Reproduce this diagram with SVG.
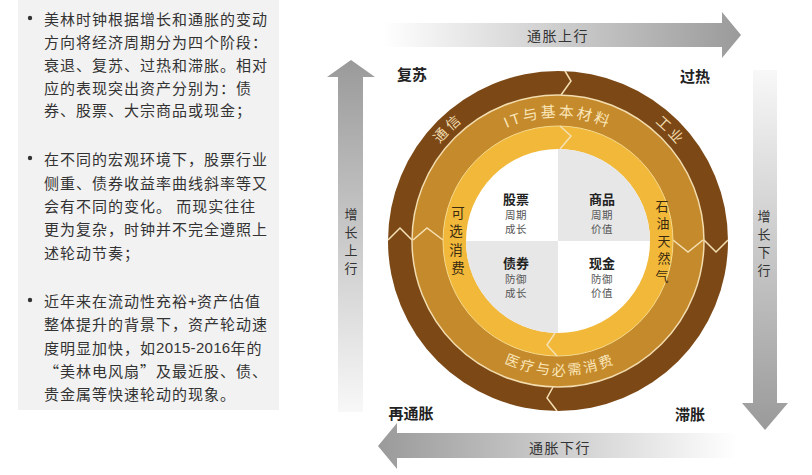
<svg xmlns="http://www.w3.org/2000/svg" width="812" height="475" viewBox="0 0 812 475">
<style>
.p{font-family:"Noto Sans CJK SC","Liberation Sans",sans-serif;font-size:15px;letter-spacing:1px;fill:#333;dominant-baseline:central}
.lat{font-family:"Liberation Sans","Noto Sans CJK SC",sans-serif;letter-spacing:0.3px}
.corner{font-family:"Noto Sans CJK SC",sans-serif;font-size:15px;font-weight:bold;fill:#222;text-anchor:middle;dominant-baseline:central}
.al{font-family:"Noto Sans CJK SC",sans-serif;font-size:14px;letter-spacing:1.5px;fill:#333;text-anchor:middle;dominant-baseline:central}
.alv{font-family:"Noto Sans CJK SC",sans-serif;font-size:13px;fill:#333;text-anchor:middle;dominant-baseline:central}
.ttl{font-family:"Noto Sans CJK SC",sans-serif;font-size:13px;font-weight:bold;fill:#222;text-anchor:middle;dominant-baseline:central}
.sub{font-family:"Noto Sans CJK SC",sans-serif;font-size:10.5px;letter-spacing:0.5px;fill:#555;text-anchor:middle;dominant-baseline:central}
.outerT{font-family:"Noto Sans CJK SC",sans-serif;font-size:14px;letter-spacing:3px;fill:#f3dcae;text-anchor:middle}
.midT{font-family:"Liberation Sans","Noto Sans CJK SC",sans-serif;font-size:15px;letter-spacing:2.5px;fill:#fbe6b8;text-anchor:middle}
.yelT{font-family:"Noto Sans CJK SC",sans-serif;font-size:13.5px;fill:#3a2a10;text-anchor:middle;dominant-baseline:central}
.yelR{font-family:"Noto Sans CJK SC",sans-serif;font-size:13px;fill:#3a2a10;text-anchor:middle;dominant-baseline:central}
.chev{fill:none;stroke:#f5e0b4;stroke-width:1.5;stroke-linejoin:miter}
</style>
<defs>
<linearGradient id="gTop" x1="0" y1="0" x2="1" y2="0"><stop offset="0" stop-color="#ffffff"/><stop offset="1" stop-color="#9a9a9a"/></linearGradient>
<linearGradient id="gBot" x1="0" y1="0" x2="1" y2="0"><stop offset="0" stop-color="#9a9a9a"/><stop offset="1" stop-color="#ffffff"/></linearGradient>
<linearGradient id="gLeft" x1="0" y1="0" x2="0" y2="1"><stop offset="0" stop-color="#9a9a9a"/><stop offset="1" stop-color="#f8f8f8"/></linearGradient>
<linearGradient id="gRight" x1="0" y1="0" x2="0" y2="1"><stop offset="0" stop-color="#f8f8f8"/><stop offset="1" stop-color="#9a9a9a"/></linearGradient>
<path id="arcOuter" d="M405,241 A153 153 0 0 1 711,241"/>
<path id="arcMidTop" d="M434,241 A124 124 0 0 1 682,241"/>
<path id="arcMidBot" d="M426,241 A134 134 0 0 0 694,241"/>
</defs>

<g id="panel">
<rect x="18" y="0" width="261" height="410" fill="#f2f2f2"/>
<circle cx="30" cy="18" r="2.2" fill="#333"/>
<text class="p" x="44" y="18">美林时钟根据增长和通胀的变动</text>
<text class="p" x="44" y="41">方向将经济周期分为四个阶段：</text>
<text class="p" x="44" y="64">衰退、复苏、过热和滞胀。相对</text>
<text class="p" x="44" y="87">应的表现突出资产分别为：债</text>
<text class="p" x="44" y="109">券、股票、大宗商品或现金；</text>
<circle cx="30" cy="158" r="2.2" fill="#333"/>
<text class="p" x="44" y="158">在不同的宏观环境下，股票行业</text>
<text class="p" x="44" y="182">侧重、债券收益率曲线斜率等又</text>
<text class="p" x="44" y="205">会有不同的变化。 而现实往往</text>
<text class="p" x="44" y="228">更为复杂，时钟并不完全遵照上</text>
<text class="p" x="44" y="252">述轮动节奏；</text>
<circle cx="30" cy="300" r="2.2" fill="#333"/>
<text class="p" x="44" y="300">近年来在流动性充裕<tspan class="lat">+</tspan>资产估值</text>
<text class="p" x="44" y="323">整体提升的背景下，资产轮动速</text>
<text class="p" x="44" y="347">度明显加快，如<tspan class="lat">2015-2016</tspan>年的</text>
<text class="p" x="44" y="370">“美林电风扇”及最近股、债、</text>
<text class="p" x="44" y="393">贵金属等快速轮动的现象。</text>
</g>

<g id="connectors">
<g id="arrow-inflation-up">
<path d="M383,23 H722 V12 L741,35 L722,58 V47 H383 Z" fill="url(#gTop)"/>
<text class="al" x="558" y="35">通胀上行</text>
</g>
<g id="arrow-inflation-down">
<path d="M737,433 H397 V423 L378,446 L397,469 V458 H737 Z" fill="url(#gBot)"/>
<text class="al" x="560" y="447">通胀下行</text>
</g>
<g id="arrow-growth-up">
<path d="M338,412 V77 H327 L351,60 L375,77 H363 V412 Z" fill="url(#gLeft)"/>
<text class="alv" x="351" y="213">增</text>
<text class="alv" x="351" y="231">长</text>
<text class="alv" x="351" y="249">上</text>
<text class="alv" x="351" y="267">行</text>
</g>
<g id="arrow-growth-down">
<path d="M753,70 V403 H742 L765,430 L788,403 H777 V70 Z" fill="url(#gRight)"/>
<text class="alv" x="764" y="215">增</text>
<text class="alv" x="764" y="233">长</text>
<text class="alv" x="764" y="251">下</text>
<text class="alv" x="764" y="269">行</text>
</g>
</g>

<g id="phase-labels">
<text id="recovery" class="corner" x="412" y="73">复苏</text>
<text id="overheat" class="corner" x="695" y="75">过热</text>
<text id="reflation" class="corner" x="411" y="412">再通胀</text>
<text id="stagflation" class="corner" x="690" y="413">滞胀</text>
</g>

<g id="clock">
<g id="ring-outer">
<circle cx="558" cy="241" r="170" fill="#7c4916"/>
<polyline class="chev" points="565,71 571,81 561,95"/>
<polyline class="chev" points="553,387 547,398 557,411"/>
<polyline class="chev" points="388,240 400,228 412,240"/>
<polyline class="chev" points="704,240 716,252 728,240"/>
<text class="outerT"><textPath href="#arcOuter" startOffset="122">通信</textPath></text>
<text class="outerT"><textPath href="#arcOuter" startOffset="362">工业</textPath></text>
</g>
<g id="ring-middle">
<circle cx="558" cy="241" r="146" fill="#c48a2c" stroke="#f3dcae" stroke-width="1.5"/>
<polyline class="chev" points="413,240 427,228 443,240"/>
<polyline class="chev" points="673,240 688,252 703,240"/>
<text class="midT"><textPath href="#arcMidTop" startOffset="50%">IT与基本材料</textPath></text>
<text class="midT" style="font-size:14px"><textPath href="#arcMidBot" startOffset="50%">医疗与必需消费</textPath></text>
</g>
<g id="ring-inner">
<circle cx="558" cy="241" r="115" fill="#f1b83a" stroke="#f6d98c" stroke-width="1"/>
<polyline class="chev" points="560,126 571,136 560,149"/>
<polyline class="chev" points="555,333 547,345 557,356"/>
<text class="yelT" x="458" y="212">可</text>
<text class="yelT" x="456" y="230">选</text>
<text class="yelT" x="456" y="249">消</text>
<text class="yelT" x="458" y="267">费</text>
<text class="yelR" x="662" y="205">石</text>
<text class="yelR" x="663" y="222.5">油</text>
<text class="yelR" x="664" y="240">天</text>
<text class="yelR" x="664" y="257.5">然</text>
<text class="yelR" x="662" y="275">气</text>
</g>
<g id="quadrants">
<circle cx="558" cy="241" r="92" fill="#ffffff"/>
<path d="M558,241 V149 A92 92 0 0 1 650,241 Z" fill="#e7e7e7"/>
<path d="M558,241 V333 A92 92 0 0 1 466,241 Z" fill="#e7e7e7"/>
</g>
<g id="q-stocks">
<text class="ttl" x="516" y="198">股票</text>
<text class="sub" x="516" y="214">周期</text>
<text class="sub" x="516" y="228">成长</text>
</g>
<g id="q-commodities">
<text class="ttl" x="602" y="198">商品</text>
<text class="sub" x="602" y="214">周期</text>
<text class="sub" x="602" y="228">价值</text>
</g>
<g id="q-bonds">
<text class="ttl" x="516" y="262">债券</text>
<text class="sub" x="516" y="278">防御</text>
<text class="sub" x="516" y="292">成长</text>
</g>
<g id="q-cash">
<text class="ttl" x="602" y="262">现金</text>
<text class="sub" x="602" y="278">防御</text>
<text class="sub" x="602" y="292">价值</text>
</g>
</g>
</svg>
